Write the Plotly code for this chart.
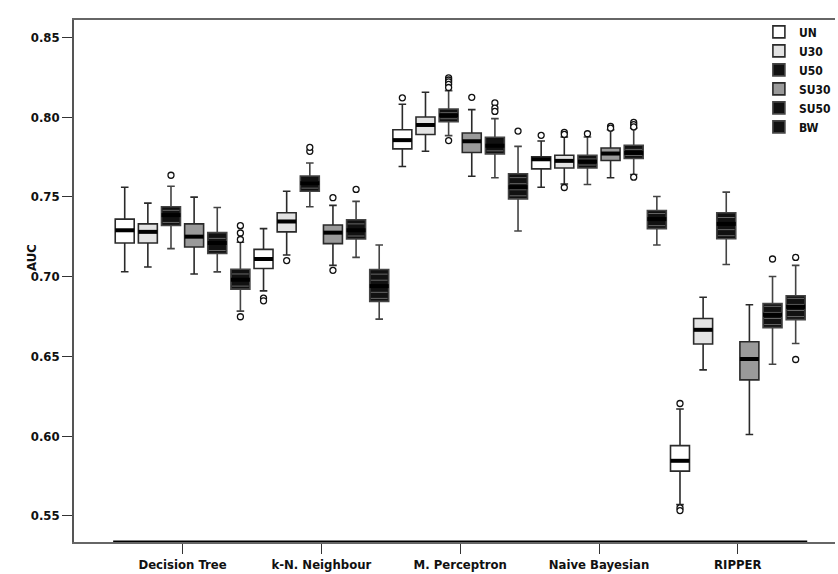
import plotly.graph_objects as go

CLASSIFIERS = ["Decision Tree", "k-N. Neighbour", "M. Perceptron", "Naive Bayesian", "RIPPER"]
SERIES = ["UN", "U30", "U50", "SU30", "SU50", "BW"]
Y_TICKS = [0.55, 0.60, 0.65, 0.70, 0.75, 0.80, 0.85]

# Five-number summaries per classifier: (lower whisker, Q1, median, Q3, upper whisker)
UN_STATS = [
    (0.703, 0.721, 0.729, 0.736, 0.756),
    (0.691, 0.705, 0.711, 0.717, 0.730),
    (0.769, 0.780, 0.7855, 0.792, 0.808),
    (0.756, 0.7675, 0.7735, 0.775, 0.785),
    (0.557, 0.578, 0.5845, 0.594, 0.617),
]
U30_STATS = [
    (0.706, 0.721, 0.728, 0.733, 0.746),
    (0.7135, 0.728, 0.7345, 0.740, 0.7535),
    (0.7785, 0.789, 0.795, 0.800, 0.8155),
    (0.758, 0.768, 0.7725, 0.776, 0.7875),
    (0.6415, 0.6577, 0.6666, 0.6737, 0.687),
]
U50_STATS = [
    (0.7175, 0.732, 0.7385, 0.7437, 0.7566),
    (0.7437, 0.7535, 0.7585, 0.763, 0.7712),
    (0.7883, 0.797, 0.801, 0.805, 0.8165),
    (0.7577, 0.768, 0.772, 0.776, 0.7875),
    (0.7075, 0.7237, 0.733, 0.740, 0.7529),
]
SU30_STATS = [
    (0.7016, 0.7185, 0.725, 0.733, 0.7498),
    (0.707, 0.7206, 0.7275, 0.7323, 0.7446),
    (0.7629, 0.7777, 0.7848, 0.790, 0.8046),
    (0.7619, 0.7727, 0.7771, 0.7806, 0.792),
    (0.601, 0.6352, 0.6483, 0.6591, 0.6823),
]
SU50_STATS = [
    (0.7029, 0.7144, 0.721, 0.7275, 0.7433),
    (0.712, 0.7235, 0.729, 0.7356, 0.7471),
    (0.7619, 0.7769, 0.782, 0.7873, 0.799),
    (0.764, 0.774, 0.7775, 0.7823, 0.793),
    (0.645, 0.668, 0.676, 0.683, 0.700),
]
BW_STATS = [
    (0.6783, 0.6921, 0.698, 0.7046, 0.7215),
    (0.6733, 0.6844, 0.694, 0.7044, 0.7198),
    (0.7285, 0.7487, 0.756, 0.7644, 0.7816),
    (0.7198, 0.730, 0.736, 0.7414, 0.7502),
    (0.658, 0.673, 0.681, 0.688, 0.707),
]

# Outlying runs per classifier
UN_OUTLIERS = [[], [0.6865, 0.6848], [0.812], [0.7885], [0.6204, 0.555, 0.5533]]
U30_OUTLIERS = [[], [0.710], [], [0.7904, 0.7891, 0.7558], []]
U50_OUTLIERS = [[0.7635], [0.7785, 0.781], [0.8245, 0.8232, 0.822, 0.8205, 0.8185, 0.7852], [0.7895], []]
SU30_OUTLIERS = [[], [0.7494, 0.7039], [0.8123], [0.7941, 0.793], []]
SU50_OUTLIERS = [[], [0.7546], [0.8088, 0.8056, 0.8035], [0.7966, 0.7952, 0.7938, 0.7623], [0.711]]
BW_OUTLIERS = [[0.7319, 0.7273, 0.7232, 0.6748], [], [0.7912], [], [0.712, 0.648]]

STATS = {"UN": UN_STATS, "U30": U30_STATS, "U50": U50_STATS,
         "SU30": SU30_STATS, "SU50": SU50_STATS, "BW": BW_STATS}
OUTLIERS = {"UN": UN_OUTLIERS, "U30": U30_OUTLIERS, "U50": U50_OUTLIERS,
            "SU30": SU30_OUTLIERS, "SU50": SU50_OUTLIERS, "BW": BW_OUTLIERS}

# Styling
FILL = {"UN": "#ffffff", "U30": "#e3e3e3", "U50": "#111111",
        "SU30": "#9a9a9a", "SU50": "#111111", "BW": "#111111"}
STRIPED = {"U50", "SU50", "BW"}
FONT = "DejaVu Sans Condensed, DejaVu Sans, sans-serif"
Y_MIN, Y_MAX = 0.5336, 0.8608
X_MIN, X_MAX = -0.782, 4.70

n = len(SERIES)
slot = 1.0 / n
box_w = slot * 0.82
stripe_step = 0.0038

fig = go.Figure()

median_x, median_y = [], []
stripe_x, stripe_y = [], []

for j, name in enumerate(SERIES):
    offset = (j - (n - 1) / 2) * slot
    xs = [i + offset for i in range(len(CLASSIFIERS))]
    lo, q1, med, q3, hi = zip(*STATS[name])
    line_col = "#444444" if name in STRIPED else "#2a2a2a"
    fig.add_trace(go.Box(
        x=xs, lowerfence=list(lo), q1=list(q1), median=list(med),
        q3=list(q3), upperfence=list(hi),
        width=box_w, whiskerwidth=0.4, boxpoints=False,
        fillcolor=FILL[name], line=dict(color=line_col, width=1.6),
        name=name, legendgroup=name, hoverinfo="skip",
    ))
    for x, a, m, b in zip(xs, q1, med, q3):
        median_x += [x - box_w / 2, x + box_w / 2, None]
        median_y += [m, m, None]
        if name in STRIPED:
            y = a + stripe_step / 2
            while y < b - stripe_step * 0.3:
                stripe_x += [x - box_w / 2 + 0.008, x + box_w / 2 - 0.008, None]
                stripe_y += [y, y, None]
                y += stripe_step

fig.add_trace(go.Scatter(x=stripe_x, y=stripe_y, mode="lines",
                         line=dict(color="#666666", width=1),
                         showlegend=False, hoverinfo="skip"))
fig.add_trace(go.Scatter(x=median_x, y=median_y, mode="lines",
                         line=dict(color="#000000", width=4),
                         showlegend=False, hoverinfo="skip"))

for j, name in enumerate(SERIES):
    offset = (j - (n - 1) / 2) * slot
    ox, oy = [], []
    for i, vals in enumerate(OUTLIERS[name]):
        for v in vals:
            ox.append(i + offset)
            oy.append(v)
    fig.add_trace(go.Scatter(
        x=ox, y=oy, mode="markers",
        marker=dict(symbol="circle", size=6, color="#ffffff",
                    line=dict(color="#111111", width=1.3)),
        showlegend=False, hoverinfo="skip",
    ))

fig.add_shape(type="line", xref="x", yref="y", x0=-0.5, x1=len(CLASSIFIERS) - 0.5,
              y0=Y_MIN, y1=Y_MIN, line=dict(color="#000000", width=3), layer="above")

fig.add_annotation(text="AUC", xref="paper", yref="y", x=0, y=0.712,
                   xshift=-52, textangle=-90, showarrow=False,
                   font=dict(family=FONT, size=13, color="#111111", weight="bold"))

fig.update_layout(
    width=838, height=574,
    margin=dict(l=74, r=2, t=20, b=30),
    paper_bgcolor="#ffffff", plot_bgcolor="#ffffff",
    boxmode="overlay",
    showlegend=True,
    legend=dict(x=0.9, y=1.005, xanchor="left", yanchor="top",
                bgcolor="rgba(0,0,0,0)", tracegroupgap=0,
                font=dict(family=FONT, size=12, color="#111111", weight="bold")),
    xaxis=dict(range=[X_MIN, X_MAX], tickvals=list(range(len(CLASSIFIERS))),
               ticktext=CLASSIFIERS, ticks="outside", ticklen=10, tickwidth=1,
               tickcolor="#333333", showline=True, mirror=True,
               linecolor="#666666", linewidth=1.5, showgrid=False, zeroline=False,
               tickfont=dict(family=FONT, size=13, color="#111111", weight="bold")),
    yaxis=dict(range=[Y_MIN, Y_MAX], tickvals=Y_TICKS, tickformat=".2f",
               ticks="outside", ticklen=10, tickwidth=1, tickcolor="#333333",
               showline=True, linecolor="#555555", linewidth=1.5,
               showgrid=False, zeroline=False,
               tickfont=dict(family=FONT, size=13, color="#111111", weight="bold")),
)

fig.write_html("out.html")
